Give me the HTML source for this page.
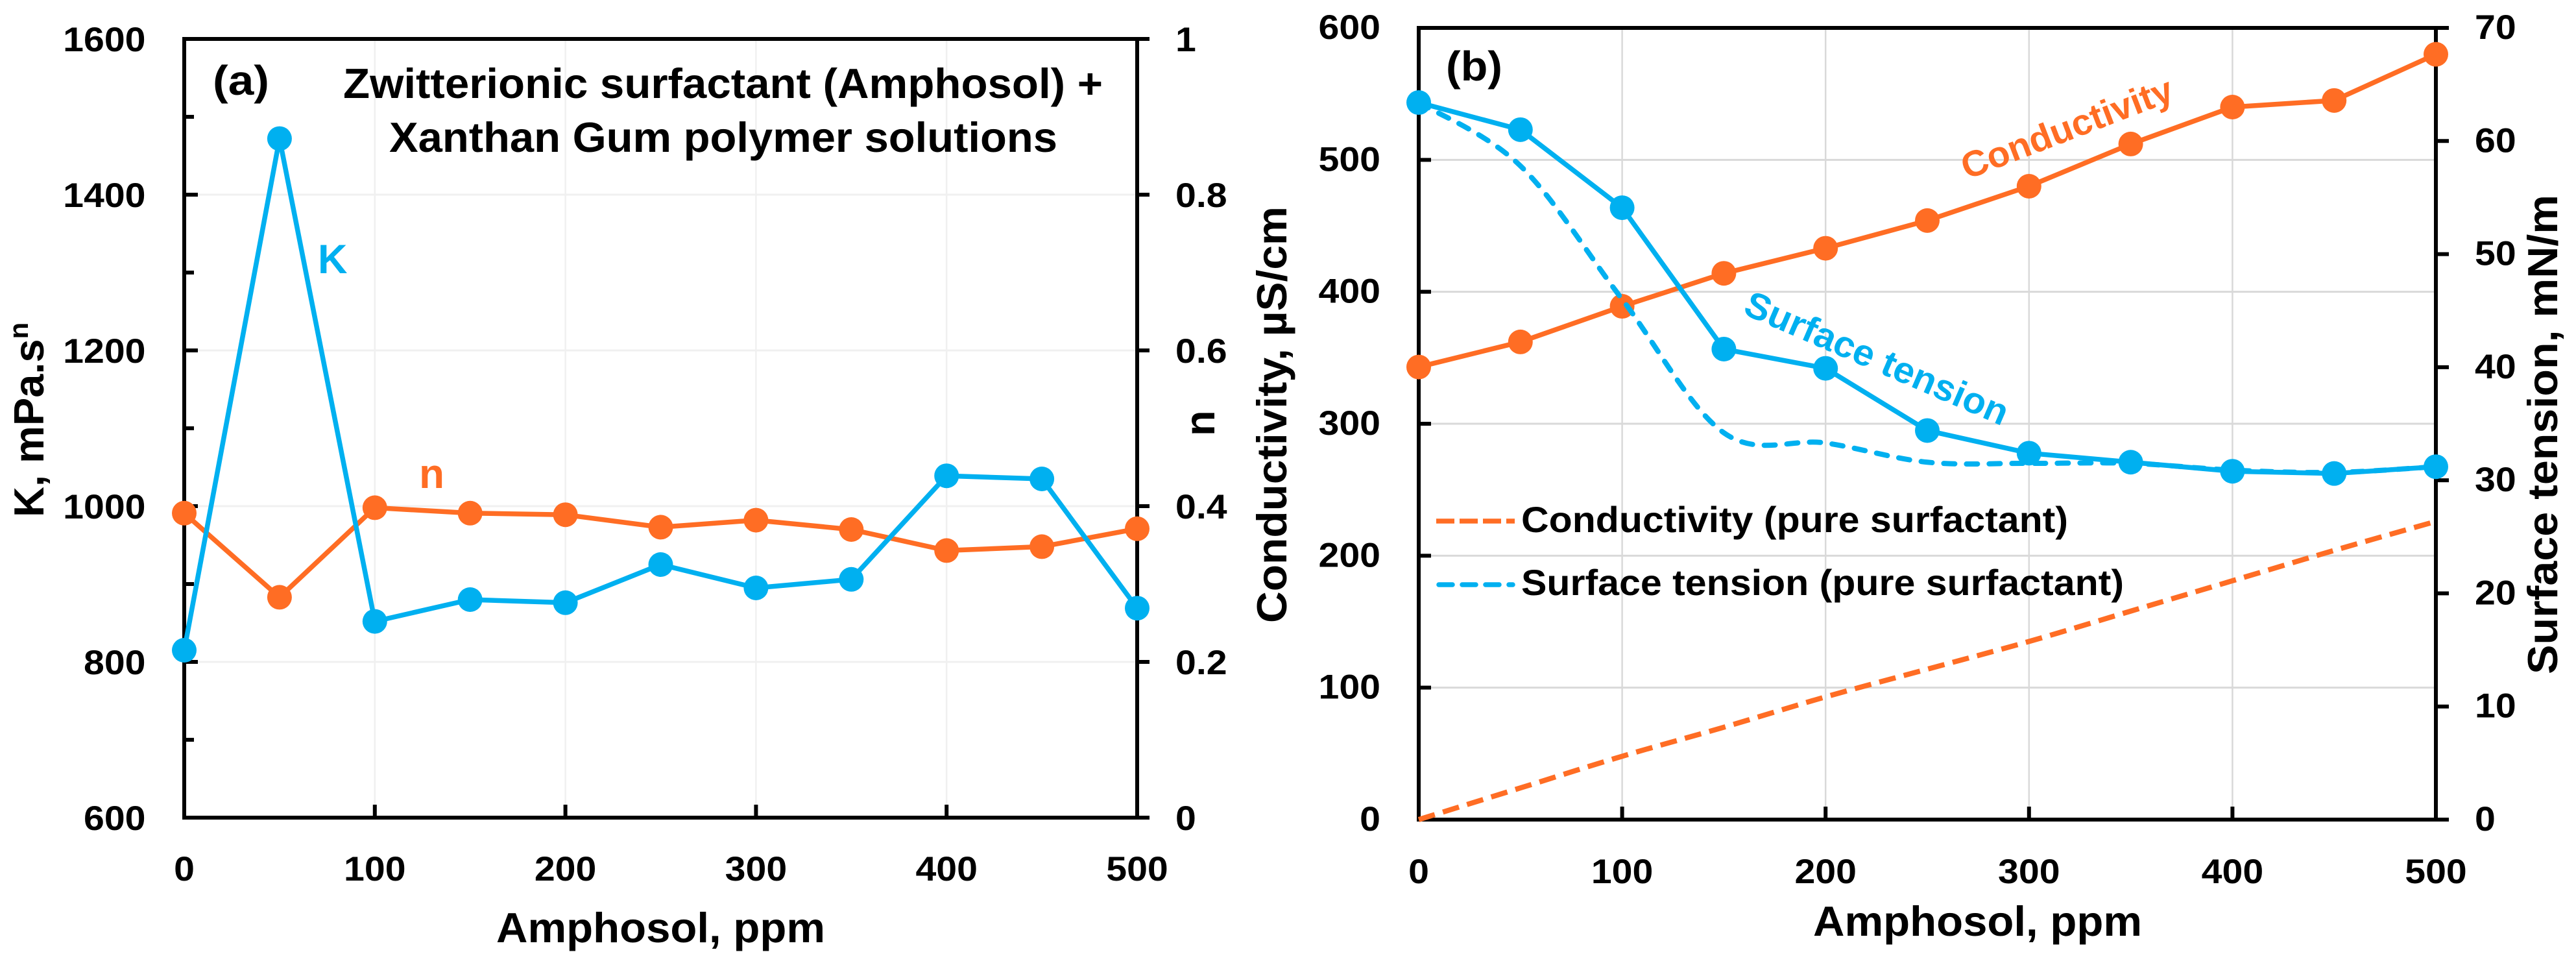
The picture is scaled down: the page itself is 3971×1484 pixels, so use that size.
<!DOCTYPE html>
<html lang="en">
<head>
<meta charset="utf-8">
<title>Amphosol charts</title>
<style>
html,body{margin:0;padding:0;background:#fff;width:3971px;height:1484px;overflow:hidden}
svg{display:block}
text{font-family:"Liberation Sans",Arial,sans-serif;font-weight:700;fill:#000}
</style>
</head>
<body>
<svg id="figure" xmlns="http://www.w3.org/2000/svg" width="3971" height="1484" viewBox="0 0 3971 1484">
<rect x="0" y="0" width="3971" height="1484" fill="#ffffff"/>
<g id="layer-grid"></g>
<g id="layer-axes"></g>
<g id="layer-series"></g>

<text x="328" y="146" font-size="64" textLength="87" lengthAdjust="spacingAndGlyphs">(a)</text>
<text x="529" y="151" font-size="65" textLength="1171" lengthAdjust="spacingAndGlyphs">Zwitterionic surfactant (Amphosol) +</text>
<text x="600" y="234" font-size="65" textLength="1030" lengthAdjust="spacingAndGlyphs">Xanthan Gum polymer solutions</text>
<text x="490" y="421" font-size="63" style="fill:#00B0F0">K</text>
<text x="646" y="752" font-size="64" style="fill:#FF6D24">n</text>
<text x="765" y="1452" font-size="65" textLength="507" lengthAdjust="spacingAndGlyphs">Amphosol, ppm</text>
<text transform="translate(67,797) rotate(-90)" font-size="65">K, mPa.s<tspan font-size="42" dy="-24">n</tspan></text>
<text transform="translate(1872,672) rotate(-90)" font-size="65">n</text>

<text x="2229" y="124" font-size="64" textLength="87" lengthAdjust="spacingAndGlyphs">(b)</text>
<text transform="translate(3032,277) rotate(-21)" font-size="56" textLength="345" lengthAdjust="spacingAndGlyphs" style="fill:#FF6D24">Conductivity</text>
<text transform="translate(2685,483) rotate(23.4)" font-size="57" textLength="437" lengthAdjust="spacingAndGlyphs" style="fill:#00B0F0">Surface tension</text>
<line x1="2214" y1="803" x2="2335" y2="803" stroke="#FF6D24" stroke-width="7.5" stroke-dasharray="28 8"/>
<text x="2345" y="820" font-size="56" textLength="843" lengthAdjust="spacingAndGlyphs">Conductivity (pure surfactant)</text>
<line x1="2218" y1="901" x2="2332" y2="901" stroke="#00B0F0" stroke-width="7.5" stroke-dasharray="21 15" stroke-linecap="round"/>
<text x="2345" y="917" font-size="56" textLength="929" lengthAdjust="spacingAndGlyphs">Surface tension (pure surfactant)</text>
<text x="2795" y="1442" font-size="65" textLength="507" lengthAdjust="spacingAndGlyphs">Amphosol, ppm</text>
<text transform="translate(1983,960) rotate(-90)" font-size="65" textLength="642" lengthAdjust="spacingAndGlyphs">Conductivity, µS/cm</text>
<text transform="translate(3942,1039) rotate(-90)" font-size="65" textLength="739" lengthAdjust="spacingAndGlyphs">Surface tension, mN/m</text>
</svg>

<script>
// ---- data ----
const amphosol = [0, 50, 100, 150, 200, 250, 300, 350, 400, 450, 500];
const kValues = [815, 1472, 852, 880, 876, 925, 895, 906, 1039, 1035, 869];
const nValues = [0.391, 0.283, 0.398, 0.391, 0.389, 0.373, 0.382, 0.370, 0.343, 0.348, 0.371];
const conductivity = [343, 362, 389, 414, 433, 454, 480, 512, 540, 545, 580];
const surfaceTension = [63.4, 61.0, 54.1, 41.6, 39.9, 34.4, 32.4, 31.6, 30.8, 30.6, 31.2];
const conductivityPure = [0, 24, 48, 70, 93, 114, 135, 158, 181, 204, 226];
const surfaceTensionPure = [63.4, 57.8, 46, 34.2, 33.3, 31.6, 31.5, 31.5, 30.9, 30.7, 31.2];
const xTicks = [0, 100, 200, 300, 400, 500];
const kTicks = [600, 800, 1000, 1200, 1400, 1600];
const kMinorTicks = [700, 900, 1100, 1300, 1500];
const nTicks = [0, 0.2, 0.4, 0.6, 0.8, 1];
const conductivityTicks = [0, 100, 200, 300, 400, 500, 600];
const tensionTicks = [0, 10, 20, 30, 40, 50, 60, 70];

// ---- axis functions ----
const A = {left: 284, right: 1753, top: 60, bottom: 1260};
const B = {left: 2187, right: 3755, top: 43, bottom: 1263};
const xA = v => A.left + (v / 500) * (A.right - A.left);
const yK = v => A.bottom - ((v - 600) / 1000) * (A.bottom - A.top);
const yN = v => A.bottom - v * (A.bottom - A.top);
const xB = v => B.left + (v / 500) * (B.right - B.left);
const yC = v => B.bottom - (v / 600) * (B.bottom - B.top);
const yS = v => B.bottom - (v / 70) * (B.bottom - B.top);

const BLUE = '#00B0F0', ORANGE = '#FF6D24';
const NS = 'http://www.w3.org/2000/svg';
const gridLayer = document.getElementById('layer-grid');
const axesLayer = document.getElementById('layer-axes');
const seriesLayer = document.getElementById('layer-series');

function drawLine(parent, name, x1, y1, x2, y2, color, width) {
  const el = document.createElementNS(NS, 'line');
  
  
  el.setAttribute('x1', x1);
  el.setAttribute('y1', y1);
  el.setAttribute('x2', x2);
  el.setAttribute('y2', y2);
  el.setAttribute('stroke', color);
  el.setAttribute('stroke-width', width);
  parent.appendChild(el);
}

function drawLabel(name, x, y, value, anchor) {
  const el = document.createElementNS(NS, 'text');
  
  
  el.setAttribute('transform', 'translate(' + x + ',' + y + ') scale(1.08,1)');
  el.setAttribute('font-size', '53');
  el.setAttribute('text-anchor', anchor);
  el.textContent = String(value);
  axesLayer.appendChild(el);
}

function drawPolyline(name, xs, ys, xf, yf, color) {
  const el = document.createElementNS(NS, 'polyline');
  
  
  el.setAttribute('points', xs.map((x, i) => xf(x) + ',' + yf(ys[i])).join(' '));
  el.setAttribute('fill', 'none');
  el.setAttribute('stroke', color);
  el.setAttribute('stroke-width', '7.5');
  el.setAttribute('stroke-linejoin', 'round');
  seriesLayer.appendChild(el);
}

function drawMarkers(name, xs, ys, xf, yf, color) {
  xs.forEach((x, i) => {
    const el = document.createElementNS(NS, 'circle');
    
    
    el.setAttribute('cx', xf(x));
    el.setAttribute('cy', yf(ys[i]));
    el.setAttribute('r', '19');
    el.setAttribute('fill', color);
    seriesLayer.appendChild(el);
  });
}

function drawSmooth(name, xs, ys, xf, yf, color, dash, cap) {
  const p = xs.map((x, i) => [xf(x), yf(ys[i])]);
  let d = 'M' + p[0][0] + ' ' + p[0][1];
  for (let i = 0; i < p.length - 1; i++) {
    const p0 = p[Math.max(i - 1, 0)], p1 = p[i], p2 = p[i + 1], p3 = p[Math.min(i + 2, p.length - 1)];
    const c1x = p1[0] + (p2[0] - p0[0]) / 6, c1y = p1[1] + (p2[1] - p0[1]) / 6;
    const c2x = p2[0] - (p3[0] - p1[0]) / 6, c2y = p2[1] - (p3[1] - p1[1]) / 6;
    d += ' C' + c1x + ' ' + c1y + ' ' + c2x + ' ' + c2y + ' ' + p2[0] + ' ' + p2[1];
  }
  const el = document.createElementNS(NS, 'path');
  
  
  el.setAttribute('d', d);
  el.setAttribute('fill', 'none');
  el.setAttribute('stroke', color);
  el.setAttribute('stroke-width', '8');
  el.setAttribute('stroke-dasharray', dash);
  el.setAttribute('stroke-linecap', cap);
  seriesLayer.appendChild(el);
}

// ---- panel (a) ----
xTicks.filter(t => t > 0 && t < 500).forEach(t => drawLine(gridLayer, 'panel-a-vertical-gridline-' + t, xA(t), A.top, xA(t), A.bottom, '#f0f0f0', 2.5));
kTicks.filter(t => t > 600 && t < 1600).forEach(t => drawLine(gridLayer, 'panel-a-horizontal-gridline-' + t, A.left, yK(t), A.right, yK(t), '#f0f0f0', 3));

drawLine(axesLayer, 'panel-a-left-axis', A.left, A.top - 3, A.left, A.bottom + 3, '#000', 6);
drawLine(axesLayer, 'panel-a-right-axis', A.right, A.top, A.right, A.bottom, '#000', 6);
drawLine(axesLayer, 'panel-a-top-axis', A.left, A.top, A.right + 19, A.top, '#000', 6);
drawLine(axesLayer, 'panel-a-bottom-axis', A.left, A.bottom, A.right + 19, A.bottom, '#000', 6);
kTicks.forEach(t => {
  if (t > 600 && t < 1600) drawLine(axesLayer, 'panel-a-k-tick-' + t, A.left, yK(t), A.left + 21, yK(t), '#000', 6);
  drawLabel('panel-a-k-tick-label-' + t, 224.5, yK(t) + 19, t, 'end');
});
kMinorTicks.forEach(t => drawLine(axesLayer, 'panel-a-k-minor-tick-' + t, A.left, yK(t), A.left + 15, yK(t), '#000', 6));
nTicks.forEach(t => {
  if (t > 0 && t < 1) drawLine(axesLayer, 'panel-a-n-tick-' + t, A.right, yN(t), A.right + 19, yN(t), '#000', 6);
  drawLabel('panel-a-n-tick-label-' + t, 1812, yN(t) + 19, t, 'start');
});
xTicks.forEach(t => {
  if (t > 0 && t < 500) drawLine(axesLayer, 'panel-a-x-tick-' + t, xA(t), A.bottom, xA(t), A.bottom - 20, '#000', 6);
  drawLabel('panel-a-x-tick-label-' + t, xA(t), 1357, t, 'middle');
});

drawPolyline('n-line', amphosol, nValues, xA, yN, ORANGE);
drawPolyline('k-line', amphosol, kValues, xA, yK, BLUE);
drawMarkers('n', amphosol, nValues, xA, yN, ORANGE);
drawMarkers('k', amphosol, kValues, xA, yK, BLUE);

// ---- panel (b) ----
xTicks.filter(t => t > 0 && t < 500).forEach(t => drawLine(gridLayer, 'panel-b-vertical-gridline-' + t, xB(t), B.top, xB(t), B.bottom, '#d9d9d9', 2.5));
conductivityTicks.filter(t => t > 0 && t < 600).forEach(t => drawLine(gridLayer, 'panel-b-horizontal-gridline-' + t, B.left, yC(t), B.right, yC(t), '#d9d9d9', 3));

drawLine(axesLayer, 'panel-b-left-axis', B.left, B.top - 3, B.left, B.bottom + 3, '#000', 6);
drawLine(axesLayer, 'panel-b-right-axis', B.right, B.top, B.right, B.bottom, '#000', 6);
drawLine(axesLayer, 'panel-b-top-axis', B.left, B.top, B.right + 20, B.top, '#000', 6);
drawLine(axesLayer, 'panel-b-bottom-axis', B.left, B.bottom, B.right + 20, B.bottom, '#000', 6);
conductivityTicks.forEach(t => {
  if (t > 0 && t < 600) drawLine(axesLayer, 'panel-b-conductivity-tick-' + t, B.left, yC(t), B.left + 19, yC(t), '#000', 6);
  drawLabel('panel-b-conductivity-tick-label-' + t, 2128, yC(t) + 17, t, 'end');
});
tensionTicks.forEach(t => {
  if (t > 0 && t < 70) drawLine(axesLayer, 'panel-b-tension-tick-' + t, B.right, yS(t), B.right + 20, yS(t), '#000', 6);
  drawLabel('panel-b-tension-tick-label-' + t, 3815, yS(t) + 17, t, 'start');
});
xTicks.forEach(t => {
  if (t > 0 && t < 500) drawLine(axesLayer, 'panel-b-x-tick-' + t, xB(t), B.bottom, xB(t), B.bottom - 20, '#000', 6);
  drawLabel('panel-b-x-tick-label-' + t, xB(t), 1361, t, 'middle');
});

drawSmooth('conductivity-pure-line', amphosol, conductivityPure, xB, yC, ORANGE, '26 13', 'butt');
drawPolyline('conductivity-line', amphosol, conductivity, xB, yC, ORANGE);
drawMarkers('conductivity', amphosol, conductivity, xB, yC, ORANGE);
drawPolyline('surface-tension-line', amphosol, surfaceTension, xB, yS, BLUE);
drawMarkers('surface-tension', amphosol, surfaceTension, xB, yS, BLUE);
drawSmooth('surface-tension-pure-line', amphosol, surfaceTensionPure, xB, yS, BLUE, '17 18', 'round');
</script>
</body>
</html>
